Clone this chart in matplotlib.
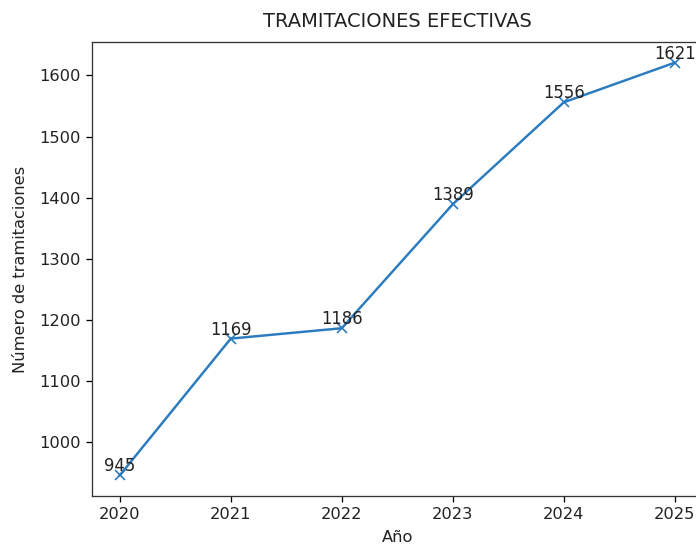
import matplotlib
matplotlib.use("Agg")
import matplotlib.pyplot as plt

anios = [2020, 2021, 2022, 2023, 2024, 2025]
tramitaciones = [945, 1169, 1186, 1389, 1556, 1621]

s = 1.17  # scale of the screenshot relative to default matplotlib sizes

fig = plt.figure(figsize=(6.96, 5.44), dpi=100)
ax = fig.add_axes([92 / 696, 1 - 496 / 544, 610.5 / 696, 454 / 544])

ax.plot(anios, tramitaciones, marker='x', color='#2a7bbf',
        linewidth=1.5 * s, markersize=6 * s, markeredgewidth=1.0 * s)
for x, y in zip(anios, tramitaciones):
    ax.text(x, y, str(y), ha='center', va='bottom', fontsize=10.2 * s, color='#222222')

ax.set_title('TRAMITACIONES EFECTIVAS', fontsize=12 * s, pad=9 * s, color='#222222')
ax.set_xlabel('Año', fontsize=10 * s, labelpad=5 * s, color='#222222')
ax.set_ylabel('Número de tramitaciones', fontsize=10 * s, labelpad=7 * s, color='#222222')
ax.tick_params(labelsize=10 * s, length=3.5 * s, width=0.8 * s, pad=3.5 * s, labelcolor='#222222')
for sp in ax.spines.values():
    sp.set_linewidth(0.8 * s)
    sp.set_color('#333333')

fig.savefig('out.png', dpi=100)
